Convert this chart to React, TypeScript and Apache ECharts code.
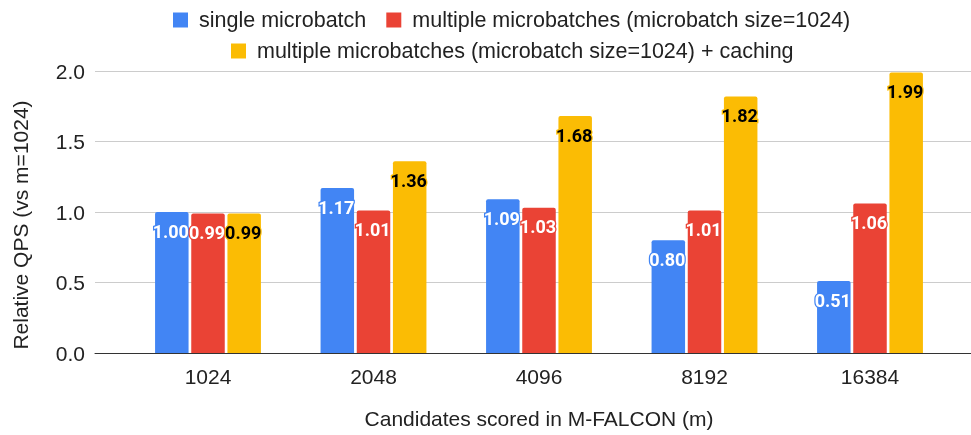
import React, { useEffect, useRef } from "react";
import * as echarts from "echarts";

const categories = ["1024", "2048", "4096", "8192", "16384"];
const seriesNames = [
  "single microbatch",
  "multiple microbatches (microbatch size=1024)",
  "multiple microbatches (microbatch size=1024) + caching",
];
const singleValues = [1.0, 1.17, 1.09, 0.8, 0.51];
const multiValues = [0.99, 1.01, 1.03, 1.01, 1.06];
const cachingValues = [0.99, 1.36, 1.68, 1.82, 1.99];
const colors = ["#4285F4", "#EA4335", "#FBBC04"];
const labelColors = ["#ffffff", "#ffffff", "#000000"];
const yTicks = [0, 0.5, 1.0, 1.5, 2.0];

const FONT = "'Liberation Sans', Arial, sans-serif";

export default function App() {
  const ref = useRef<HTMLDivElement>(null);
  useEffect(() => {
    if (!ref.current) return;
    document.body.style.margin = "0";
    const chart = echarts.init(ref.current, undefined, { renderer: "svg" });
    const values = [singleValues, multiValues, cachingValues];
    const series = values.map((vals, i) => ({
      name: seriesNames[i],
      type: "bar",
      xAxisIndex: 1,
      yAxisIndex: 1,
      data: vals,
      barWidth: 33.5,
      barGap: "8%",
      itemStyle: { color: colors[i], borderRadius: [2, 2, 0, 0] },
      label: {
        show: true,
        position: "insideTop",
        distance: 10,
        offset: [-1, 0],
        formatter: (p: any) => Number(p.value).toFixed(2),
        color: labelColors[i],
        fontFamily: "Roboto, sans-serif",
        fontWeight: "bold",
        fontSize: 18,
        textBorderColor: colors[i],
        textBorderWidth: 2.5,
      },
    }));
    const legendText = {
      fontSize: 21.5,
      color: "#222",
      fontFamily: FONT,
      padding: [0, 0, 0, 6],
    };
    chart.setOption({
      animation: false,
      textStyle: { fontFamily: FONT },
      legend: [
        {
          data: [seriesNames[0], seriesNames[1]],
          left: 173,
          top: 9,
          padding: 0,
          icon: "rect",
          itemWidth: 15,
          itemHeight: 15,
          itemGap: 20,
          textStyle: legendText,
        },
        {
          data: [seriesNames[2]],
          left: 231,
          top: 40,
          padding: 0,
          icon: "rect",
          itemWidth: 15,
          itemHeight: 15,
          textStyle: legendText,
        },
      ],
      grid: [
        { left: 95, right: 0, top: 71, bottom: 82 },
        { left: 125.25, right: 18.25, top: 71, bottom: 82 },
      ],
      xAxis: [
        {
          gridIndex: 0,
          type: "category",
          data: [""],
          axisLine: { show: true, lineStyle: { color: "#333", width: 1 } },
          axisTick: { show: false },
          axisLabel: { show: false },
        },
        {
          gridIndex: 1,
          type: "category",
          data: categories,
          axisLine: { show: false },
          axisTick: { show: false },
          axisLabel: { fontSize: 21, color: "#222", margin: 13, fontFamily: FONT },
          name: "Candidates scored in M-FALCON (m)",
          nameLocation: "middle",
          nameGap: 55,
          nameTextStyle: { fontSize: 21, color: "#222", fontFamily: FONT },
        },
      ],
      yAxis: [
        {
          gridIndex: 0,
          type: "value",
          min: 0,
          max: 2,
          interval: 0.5,
          axisLine: { show: false },
          axisTick: { show: false },
          splitLine: { show: true, lineStyle: { color: "#cccccc", width: 1 } },
          axisLabel: {
            fontSize: 21,
            color: "#222",
            margin: 10,
            fontFamily: FONT,
            formatter: (v: number) => (yTicks.includes(v) ? v.toFixed(1) : ""),
          },
        },
        {
          gridIndex: 1,
          type: "value",
          min: 0,
          max: 2,
          interval: 0.5,
          show: false,
          splitLine: { show: false },
        },
      ],
      graphic: [
        {
          type: "text",
          x: 20,
          y: 225,
          rotation: Math.PI / 2,
          style: {
            text: "Relative QPS (vs m=1024)",
            font: `21px ${FONT}`,
            fill: "#222",
            align: "center",
            verticalAlign: "middle",
          },
        },
      ],
      series,
    });
    return () => chart.dispose();
  }, []);
  return (
    <div
      ref={ref}
      style={{ position: "fixed", left: 0, top: 0, width: 971, height: 435 }}
    />
  );
}
